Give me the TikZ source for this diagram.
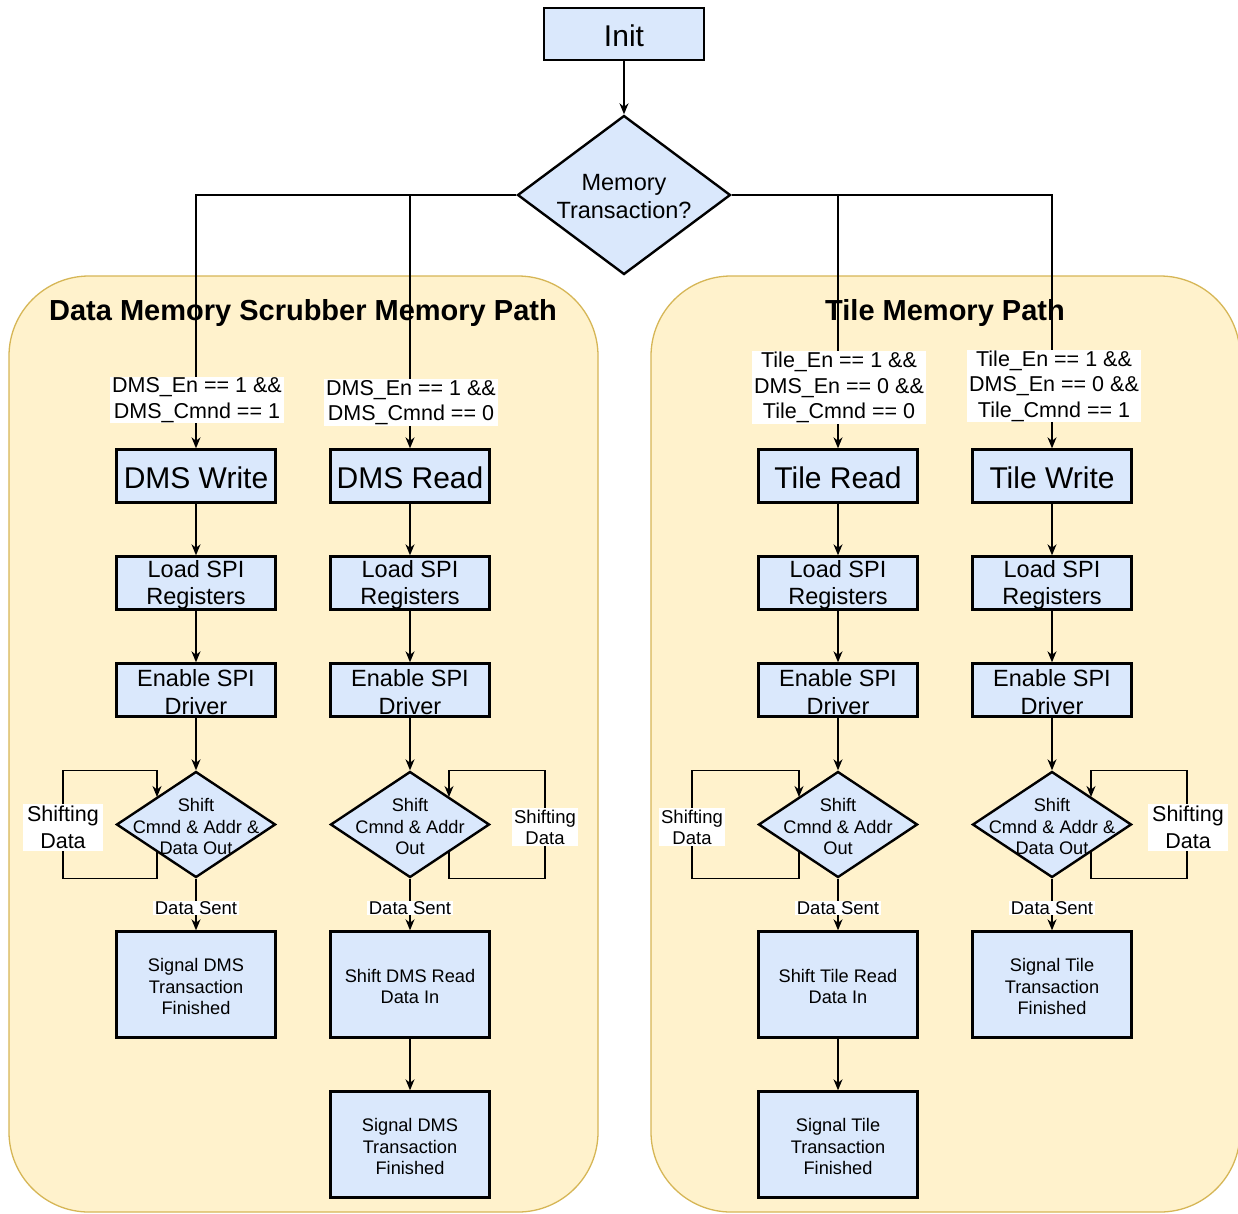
\documentclass[tikz,border=0pt]{standalone}
\usepackage{fontspec}
\setmainfont{Liberation Sans}
\usetikzlibrary{shapes.geometric,arrows.meta,calc}

\definecolor{boxfill}{HTML}{DAE8FC}
\definecolor{pathfill}{HTML}{FFF2CC}
\definecolor{pathline}{HTML}{D6B656}

\tikzset{
  x=1pt, y=-1pt,
  panel/.style={draw=pathline, fill=pathfill, line width=1.3pt, rounded corners=80pt,
    minimum width=589pt, minimum height=936pt, inner sep=0pt},
  paneltitle/.style={font=\bfseries\fontsize{29}{33}\selectfont, inner sep=0pt},
  proc/.style={draw, line width=2.4pt, fill=boxfill, minimum width=159pt,
    minimum height=53pt, inner sep=0pt},
  tallproc/.style={proc, minimum height=106pt},
  dec/.style={diamond, draw, line width=2.4pt, fill=boxfill, minimum width=159pt,
    minimum height=106pt, inner sep=0pt},
  bigtxt/.style={font=\fontsize{30}{34}\selectfont},
  midtxt/.style={font=\fontsize{23.5}{27.5}\selectfont},
  smalltxt/.style={font=\fontsize{18.2}{21.5}\selectfont},
  inside/.style={align=center, inner sep=0pt},
  bigcap/.style={label={[inside, bigtxt, yshift=-1.5pt]center:{#1}}},
  midcap/.style={label={[inside, midtxt, yshift=-2pt]center:{#1}}},
  smallcap/.style={label={[inside, smalltxt, yshift=-2pt]center:{#1}}},
  cond/.style={fill=white, align=center, inner xsep=2.5pt, inner ysep=1pt,
    font=\fontsize{21.5}{25.5}\selectfont},
  sent/.style={fill=white, inner xsep=1.5pt, inner ysep=0.5pt,
    font=\fontsize{18.5}{21.5}\selectfont},
  loopbig/.style={fill=white, align=center, inner xsep=4pt, inner ysep=2pt,
    font=\fontsize{21.5}{27}\selectfont},
  loopsmall/.style={fill=white, align=center, inner xsep=2pt, inner ysep=2pt,
    font=\fontsize{18.5}{21}\selectfont},
  conn/.style={line width=1.3pt, -{Stealth[length=11pt,width=9pt,inset=3.5pt]}},
}

\begin{document}
\begin{tikzpicture}
\useasboundingbox (0,0) rectangle (1238,1213);

% the two path panels
\node[panel] (dmspanel) at (303.5,744) {};
\node[panel] (tilepanel) at (945.5,744) {};
\node[paneltitle] (dmstitle) at (303,312.5) {Data Memory Scrubber Memory Path};
\node[paneltitle] (tiletitle) at (945,312.5) {Tile Memory Path};

% entry
\node[proc, minimum width=160pt, minimum height=52pt, bigcap={Init}] (init) at (624,34) {};
\node[dec, minimum width=213pt, minimum height=159pt] (memtx) at (624,195) {};
\node[inside, midtxt] (memtxt) at ($(memtx.center)+(0,1.5)$) {Memory\\Transaction?};

% DMS write column
\node[proc, bigcap={DMS Write}] (dmsw) at (196,476) {};
\node[proc, midcap={Load SPI\\Registers}] (dmswload) at (196,583) {};
\node[proc, midcap={Enable SPI\\Driver}] (dmswen) at (196,690) {};
\node[dec] (dmswsh) at (196,824.5) {};
\node[tallproc, smallcap={Signal DMS\\Transaction\\Finished}] (dmswfin) at (196,984.5) {};

% DMS read column
\node[proc, bigcap={DMS Read}] (dmsr) at (410,476) {};
\node[proc, midcap={Load SPI\\Registers}] (dmsrload) at (410,583) {};
\node[proc, midcap={Enable SPI\\Driver}] (dmsren) at (410,690) {};
\node[dec] (dmsrsh) at (410,824.5) {};
\node[tallproc, smallcap={Shift DMS Read\\Data In}] (dmsrin) at (410,984.5) {};
\node[tallproc, smallcap={Signal DMS\\Transaction\\Finished}] (dmsrfin) at (410,1144.5) {};

% Tile read column
\node[proc, bigcap={Tile Read}] (tiler) at (838,476) {};
\node[proc, midcap={Load SPI\\Registers}] (tilerload) at (838,583) {};
\node[proc, midcap={Enable SPI\\Driver}] (tileren) at (838,690) {};
\node[dec] (tilersh) at (838,824.5) {};
\node[tallproc, smallcap={Shift Tile Read\\Data In}] (tilerin) at (838,984.5) {};
\node[tallproc, smallcap={Signal Tile\\Transaction\\Finished}] (tilerfin) at (838,1144.5) {};

% Tile write column
\node[proc, bigcap={Tile Write}] (tilew) at (1052,476) {};
\node[proc, midcap={Load SPI\\Registers}] (tilewload) at (1052,583) {};
\node[proc, midcap={Enable SPI\\Driver}] (tileween) at (1052,690) {};
\node[dec] (tilewsh) at (1052,824.5) {};
\node[tallproc, smallcap={Signal Tile\\Transaction\\Finished}] (tilewfin) at (1052,984.5) {};

% dispatch from the decision
\draw[conn] (init) -- (memtx);
\draw[conn] (memtx.west) -| (dmsw.north);
\draw[conn] (memtx.west) -| (dmsr.north);
\draw[conn] (memtx.east) -| (tiler.north);
\draw[conn] (memtx.east) -| (tilew.north);
\node[cond] (c1) at (197,400) {DMS\_En == 1 \&\&\\DMS\_Cmnd == 1};
\node[cond] (c2) at (411,402.5) {DMS\_En == 1 \&\&\\DMS\_Cmnd == 0};
\node[cond] (c3) at (839,387.5) {Tile\_En == 1 \&\&\\DMS\_En == 0 \&\&\\Tile\_Cmnd == 0};
\node[cond] (c4) at (1054,386) {Tile\_En == 1 \&\&\\DMS\_En == 0 \&\&\\Tile\_Cmnd == 1};

% straight chains
\draw[conn] (dmsw) -- (dmswload);
\draw[conn] (dmswload) -- (dmswen);
\draw[conn] (dmswen) -- (dmswsh);
\draw[conn] (dmswsh) -- node[sent, pos=0.57] (s1) {Data Sent} (dmswfin);

\draw[conn] (dmsr) -- (dmsrload);
\draw[conn] (dmsrload) -- (dmsren);
\draw[conn] (dmsren) -- (dmsrsh);
\draw[conn] (dmsrsh) -- node[sent, pos=0.57] (s2) {Data Sent} (dmsrin);
\draw[conn] (dmsrin) -- (dmsrfin);

\draw[conn] (tiler) -- (tilerload);
\draw[conn] (tilerload) -- (tileren);
\draw[conn] (tileren) -- (tilersh);
\draw[conn] (tilersh) -- node[sent, pos=0.57] (s3) {Data Sent} (tilerin);
\draw[conn] (tilerin) -- (tilerfin);

\draw[conn] (tilew) -- (tilewload);
\draw[conn] (tilewload) -- (tileween);
\draw[conn] (tileween) -- (tilewsh);
\draw[conn] (tilewsh) -- node[sent, pos=0.57] (s4) {Data Sent} (tilewfin);

% shifting self-loops
\coordinate (l1in) at ($(dmswsh.center)+(-39,27)$);
\coordinate (l1out) at ($(dmswsh.center)+(-39,-27.5)$);
\coordinate (l1far) at (63,824.5);
\draw[conn] (l1in) -- (l1in |- dmswsh.south) -| (l1far) |- (l1in |- dmswsh.north) -- (l1out);
\node[loopbig] (l1txt) at (63,827.5) {Shifting\\Data};

\coordinate (l2in) at ($(dmsrsh.center)+(39,27)$);
\coordinate (l2out) at ($(dmsrsh.center)+(39,-27.5)$);
\coordinate (l2far) at (545,824.5);
\draw[conn] (l2in) -- (l2in |- dmsrsh.south) -| (l2far) |- (l2in |- dmsrsh.north) -- (l2out);
\node[loopsmall] (l2txt) at (545,827) {Shifting\\Data};

\coordinate (l3in) at ($(tilersh.center)+(-39,27)$);
\coordinate (l3out) at ($(tilersh.center)+(-39,-27.5)$);
\coordinate (l3far) at (692,824.5);
\draw[conn] (l3in) -- (l3in |- tilersh.south) -| (l3far) |- (l3in |- tilersh.north) -- (l3out);
\node[loopsmall] (l3txt) at (692,827) {Shifting\\Data};

\coordinate (l4in) at ($(tilewsh.center)+(39,27)$);
\coordinate (l4out) at ($(tilewsh.center)+(39,-27.5)$);
\coordinate (l4far) at (1187,824.5);
\draw[conn] (l4in) -- (l4in |- tilewsh.south) -| (l4far) |- (l4in |- tilewsh.north) -- (l4out);
\node[loopbig] (l4txt) at (1188,827.5) {Shifting\\Data};

% captions of the shift decisions
\node[inside, smalltxt] (dmswshtxt) at ($(dmswsh.center)+(0,2)$) {Shift\\Cmnd \& Addr \&\\Data Out};
\node[inside, smalltxt] (dmsrshtxt) at ($(dmsrsh.center)+(0,2)$) {Shift\\Cmnd \& Addr\\Out};
\node[inside, smalltxt] (tilershtxt) at ($(tilersh.center)+(0,2)$) {Shift\\Cmnd \& Addr\\Out};
\node[inside, smalltxt] (tilewshtxt) at ($(tilewsh.center)+(0,2)$) {Shift\\Cmnd \& Addr \&\\Data Out};
\end{tikzpicture}
\end{document}
